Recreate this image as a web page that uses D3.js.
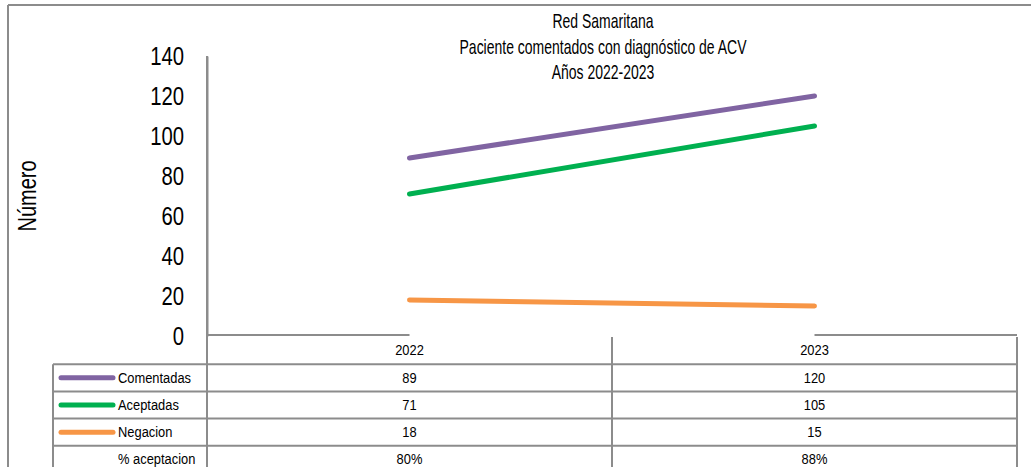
<!DOCTYPE html>
<html>
<head>
<meta charset="utf-8">
<script src="https://cdn.jsdelivr.net/npm/d3@7"></script>
<style>
  body { margin: 0; background: #fff; }
  text { font-family: "Liberation Sans", Arial, sans-serif; fill: #000; }
</style>
</head>
<body>
<svg id="chart" width="1031" height="467"></svg>
<script>
// data
var years = ['2022', '2023'];
var comentadas = [89, 120];
var aceptadas = [71, 105];
var negacion = [18, 15];
var pctAceptacion = ['80%', '88%'];
var yTicks = [0, 20, 40, 60, 80, 100, 120, 140];
var titleLines = ['Red Samaritana', 'Paciente comentados con diagnóstico de ACV', 'Años 2022-2023'];

var series = [
	{ name: 'Comentadas', values: comentadas, color: '#8064a2' },
	{ name: 'Aceptadas', values: aceptadas, color: '#00b050' },
	{ name: 'Negacion', values: negacion, color: '#f79646' }
];

var svg = d3.select('#chart');
var grid = '#8c8c8c';

var plotLeft = 207, plotRight = 1017, plotTop = 56, plotBase = 336;
var rowH = 27.2, tableLeft = 53;

var x = d3.scalePoint().domain(years).range([plotLeft, plotRight]).padding(0.5);
var y = d3.scaleLinear().domain([0, 140]).range([plotBase, plotTop]);

// narrow-looking text: squeeze horizontally since no condensed font is around
function put(g, px, py, txt, size, anchor, sx) {
	return g.append('text')
		.attr('transform', 'translate(' + px + ',' + py + ') scale(' + sx + ',1)')
		.attr('text-anchor', anchor)
		.style('font-size', size + 'px')
		.text(txt);
}

// outer frame (top and left only)
svg.append('line').attr('x1', 8).attr('x2', 1031).attr('y1', 5).attr('y2', 5)
	.attr('stroke', grid).attr('stroke-width', 2);
svg.append('line').attr('x1', 8).attr('x2', 8).attr('y1', 5).attr('y2', 467)
	.attr('stroke', grid).attr('stroke-width', 2);

// title
var tg = svg.append('g');
titleLines.forEach(function(t, i) {
	put(tg, 603, 28 + i * 25.5, t, 20, 'middle', 0.70);
});

// y axis
var sxTick = 0.78;
var yAxis = d3.axisLeft(y).tickValues(yTicks).tickSize(0).tickPadding(0);
var gy = svg.append('g').attr('transform', 'translate(' + plotLeft + ',0)').call(yAxis);
gy.select('.domain').attr('stroke', grid).attr('stroke-width', 2);
gy.selectAll('text')
	.style('font-size', '26px')
	.style('font-family', '"Liberation Sans", Arial, sans-serif')
	.attr('x', -23 / sxTick)
	.attr('transform', 'scale(' + sxTick + ',1)');

svg.append('text')
	.attr('transform', 'translate(36,196) rotate(-90) scale(0.8,1)')
	.attr('text-anchor', 'middle')
	.style('font-size', '25px')
	.text('Número');

// baseline (only visible toward the edges in the source)
svg.append('line').attr('x1', plotLeft).attr('x2', x(years[0])).attr('y1', plotBase - 1).attr('y2', plotBase - 1)
	.attr('stroke', grid).attr('stroke-width', 2);
svg.append('line').attr('x1', x(years[1])).attr('x2', plotRight).attr('y1', plotBase - 1).attr('y2', plotBase - 1)
	.attr('stroke', grid).attr('stroke-width', 2);

// lines
var line = d3.line()
	.x(function(d, i) { return x(years[i]); })
	.y(function(d) { return y(d); });

svg.append('g').selectAll('path').data(series).enter().append('path')
	.attr('d', function(d) { return line(d.values); })
	.attr('fill', 'none')
	.attr('stroke', function(d) { return d.color; })
	.attr('stroke-width', 5)
	.attr('stroke-linecap', 'round');

// data table
var tbl = svg.append('g');
var rowsTop = plotBase + 1;
var nRows = series.length + 1;
var colEdges = [plotLeft, (x(years[0]) + x(years[1])) / 2, plotRight];
var sxT = 0.86, fsT = 15;

years.forEach(function(yr) {
	put(tbl, x(yr), rowsTop + rowH / 2 + 4, yr, fsT, 'middle', sxT);
});

// horizontal rules
for (var r = 1; r <= nRows; r++) {
	tbl.append('line')
		.attr('x1', tableLeft).attr('x2', plotRight)
		.attr('y1', rowsTop + r * rowH).attr('y2', rowsTop + r * rowH)
		.attr('stroke', grid).attr('stroke-width', 2);
}
// vertical rules
tbl.append('line').attr('x1', tableLeft).attr('x2', tableLeft)
	.attr('y1', rowsTop + rowH).attr('y2', 467).attr('stroke', grid).attr('stroke-width', 2);
colEdges.forEach(function(cx, i) {
	tbl.append('line').attr('x1', cx).attr('x2', cx)
		.attr('y1', i === 0 ? plotTop : rowsTop).attr('y2', 467)
		.attr('stroke', grid).attr('stroke-width', 2);
});

// series rows
series.forEach(function(s, i) {
	var cy = rowsTop + (i + 1) * rowH + rowH / 2;
	tbl.append('line').attr('x1', 61).attr('x2', 113).attr('y1', cy).attr('y2', cy)
		.attr('stroke', s.color).attr('stroke-width', 5).attr('stroke-linecap', 'round');
	put(tbl, 118, cy + 5, s.name, fsT, 'start', sxT);
	s.values.forEach(function(v, j) {
		put(tbl, x(years[j]), cy + 5, v, fsT, 'middle', sxT);
	});
});

// % aceptacion row
var cyp = rowsTop + 4 * rowH + rowH / 2;
put(tbl, 118, cyp + 5, '% aceptacion', fsT, 'start', sxT);
pctAceptacion.forEach(function(v, j) {
	put(tbl, x(years[j]), cyp + 5, v, fsT, 'middle', sxT);
});
</script>
</body>
</html>
